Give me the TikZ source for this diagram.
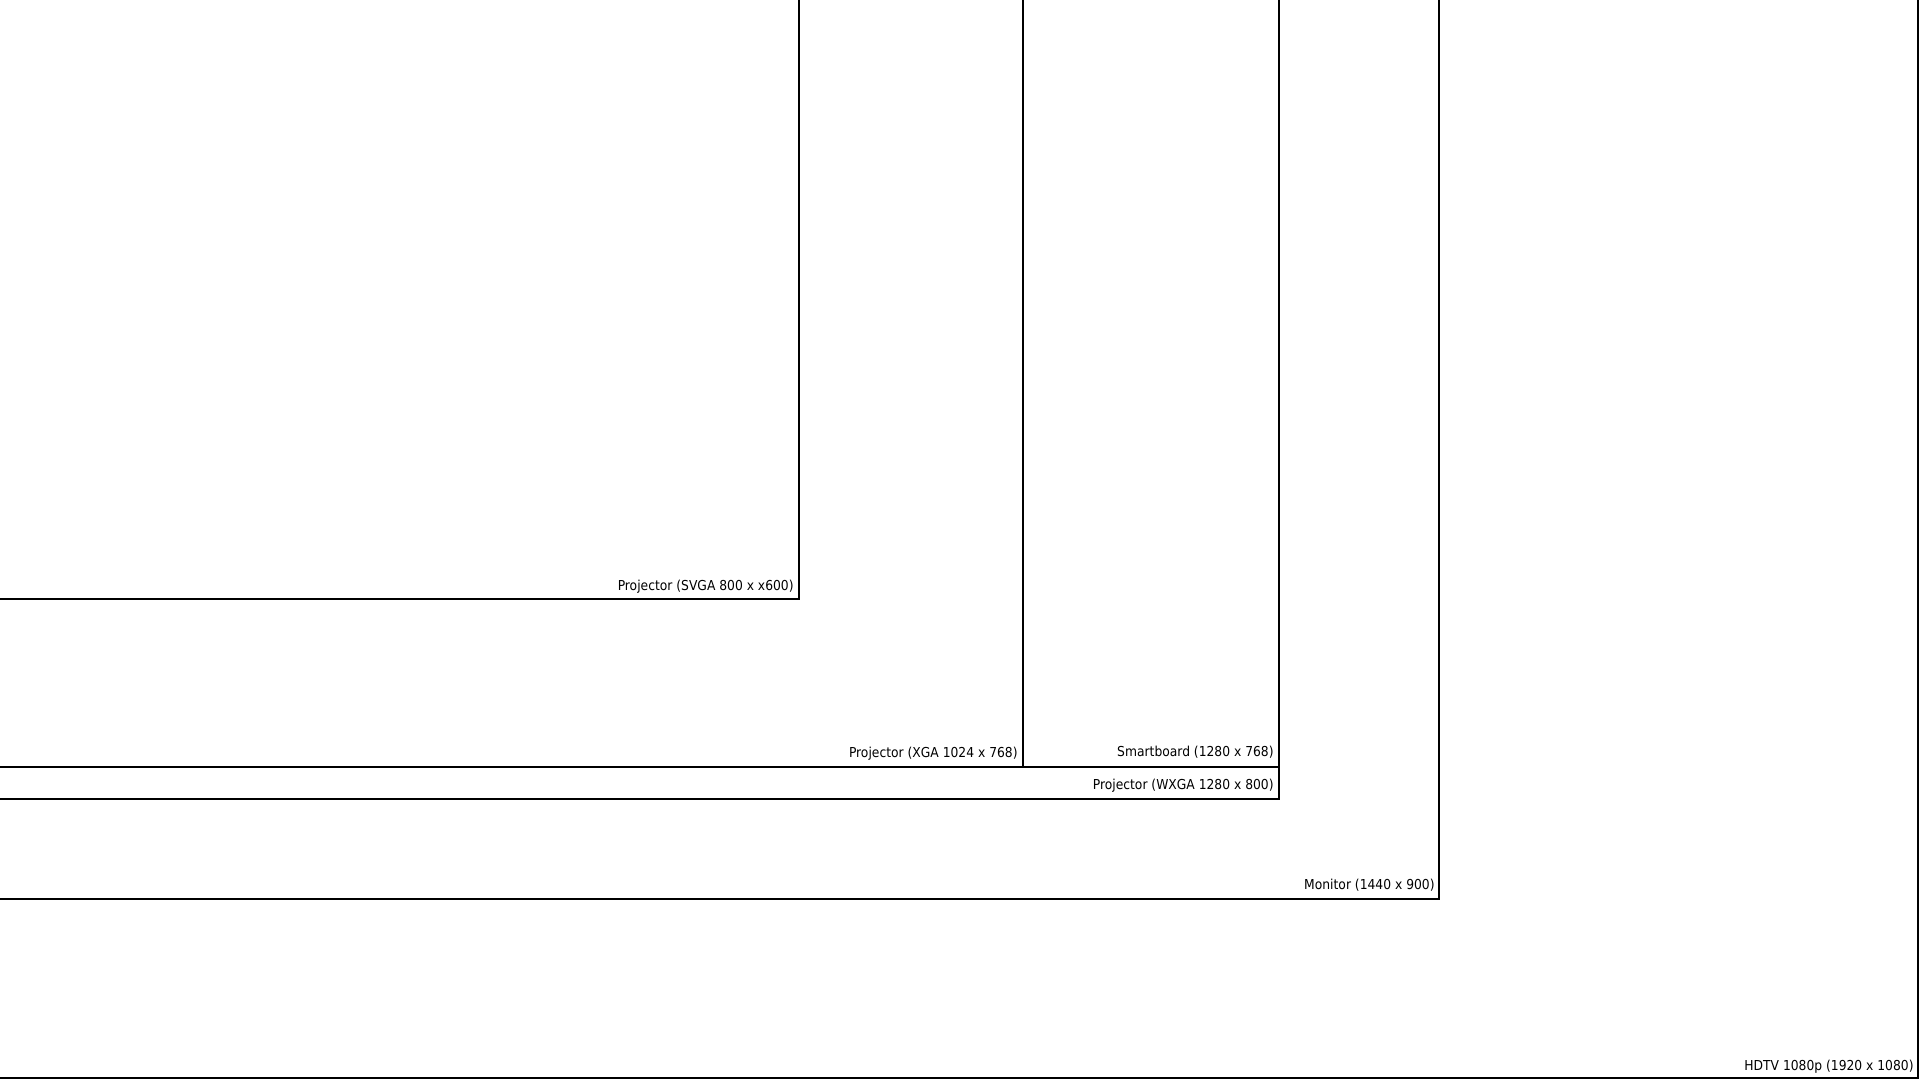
\documentclass[tikz,border=0pt]{standalone}
\usepackage{fontspec}
\setmainfont{DejaVu Sans Condensed}
\usetikzlibrary{positioning}
\definecolor{ink}{HTML}{000000}
\definecolor{paper}{HTML}{FFFFFF}

\begin{document}
\begin{tikzpicture}[
  x=0.5pt, y=-0.5pt,
  font=\fontsize{6.85}{8}\selectfont,
  screen/.style={draw=ink, line width=1.4pt},
  res/.style={anchor=base east, inner sep=0pt, text=ink}
]
\fill[paper] (0,0) rectangle (1920,1080);
\useasboundingbox (0,0) rectangle (1920,1080);

\draw[screen] (0,599) -| (799,0);
\draw[screen] (0,767) -| (1023,0);
\draw[screen] (0,767) -| (1279,0);
\draw[screen] (0,799) -| (1279,0);
\draw[screen] (0,899) -| (1439,0);
\draw[screen] (0,1078) -| (1918,0);

\node[res] (svga) at (794,590) {Projector (SVGA 800 x x600)};
\node[res] (xga) at (1018,757) {Projector (XGA 1024 x 768)};
\node[res] (smart) at (1274,756) {Smartboard (1280 x 768)};
\node[res] (wxga) at (1274,789) {Projector (WXGA 1280 x 800)};
\node[res] (mon) at (1435,889) {Monitor (1440 x 900)};
\node[res] (hdtv) at (1914,1070) {HDTV 1080p (1920 x 1080)};
\end{tikzpicture}
\end{document}
